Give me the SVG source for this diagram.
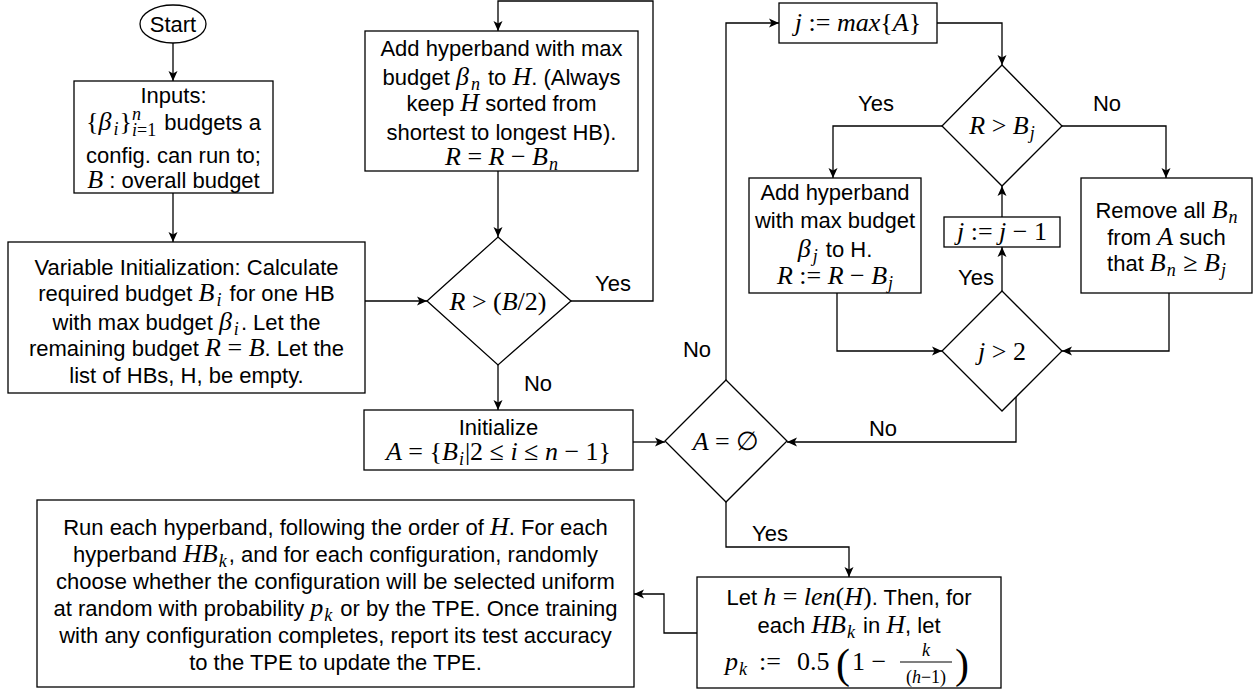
<svg xmlns="http://www.w3.org/2000/svg" width="1257" height="692" viewBox="0 0 1257 692">
<defs>
<style>
.box{fill:#fff;stroke:#000;stroke-width:1.3}
.ln{fill:none;stroke:#000;stroke-width:1.3;marker-end:url(#ah)}
text{font-family:"Liberation Sans",Arial,sans-serif;font-size:22px;fill:#000;text-anchor:middle}
.m{font-family:"Liberation Serif","Times New Roman",serif;font-size:26px;font-style:italic}
.u{font-family:"Liberation Serif","Times New Roman",serif;font-size:26px;font-style:normal}
.ms{font-family:"Liberation Serif","Times New Roman",serif;font-size:18px;font-style:italic}
.us{font-family:"Liberation Serif","Times New Roman",serif;font-size:18px;font-style:normal}
.sb{baseline-shift:-5px}
.st{text-anchor:start}
</style>
<marker id="ah" markerWidth="11" markerHeight="10" refX="10" refY="5" orient="auto" markerUnits="userSpaceOnUse">
<path d="M0,0.5 L10,5 L0,9.5 L2.5,5 z" fill="#000"/>
</marker>
</defs>

<g id="connectors">
<path class="ln" d="M173,43 V81"/>
<path class="ln" d="M173,193 V242"/>
<path class="ln" d="M365,301 H427"/>
<path class="ln" d="M571,301 H653 V1 H498 V31"/>
<path class="ln" d="M498,171 V237"/>
<path class="ln" d="M498,365 V410"/>
<path class="ln" d="M633,442 H665"/>
<path class="ln" d="M726,380 V23 H779"/>
<path class="ln" d="M937,23 H1002 V65"/>
<path class="ln" d="M942,126 H833 V178"/>
<path class="ln" d="M1062,126 H1166 V178"/>
<path class="ln" d="M837,293 V351 H942"/>
<path class="ln" d="M1169,293 V351 H1062"/>
<path class="ln" d="M1002,291 V247"/>
<path class="ln" d="M1002,217 V186"/>
<path class="ln" d="M1016,397 V442 H787"/>
<path class="ln" d="M726,502 V547 H849 V577"/>
<path class="ln" d="M697,633 H664 V594 H634"/>
<text x="613" y="291">Yes</text>
<text x="538" y="391">No</text>
<text x="697" y="357">No</text>
<text x="876" y="111">Yes</text>
<text x="1107" y="111">No</text>
<text x="976" y="285">Yes</text>
<text x="883" y="436">No</text>
<text x="770" y="541">Yes</text>
</g>

<g id="start">
<ellipse cx="173" cy="24" rx="33" ry="19" class="box"/>
<text x="173" y="32">Start</text>
</g>

<g id="inputs">
<rect x="74" y="81" width="199" height="112" class="box"/>
<text x="173.5" y="103">Inputs:</text>
<text x="173.5" y="130"><tspan class="u">{</tspan><tspan class="m">β</tspan><tspan class="ms sb" dx="2">i</tspan><tspan class="u" dx="1">}</tspan><tspan class="ms" style="baseline-shift:10px">n</tspan><tspan class="ms" dx="-9" style="baseline-shift:-6px">i</tspan><tspan class="us" style="baseline-shift:-6px">=1</tspan><tspan dx="2"> budgets a</tspan></text>
<text x="173.5" y="163">config. can run to;</text>
<text x="173.5" y="188"><tspan class="m">B</tspan> : overall budget</text>
</g>

<g id="varinit">
<rect x="8" y="242" width="357" height="151" class="box"/>
<text x="186.5" y="275">Variable Initialization: Calculate</text>
<text x="186.5" y="301">required budget <tspan class="m">B</tspan><tspan class="ms sb" dx="2">i</tspan><tspan dx="2"> for one HB</tspan></text>
<text x="186.5" y="330">with max budget <tspan class="m">β</tspan><tspan class="ms sb" dx="2">i</tspan><tspan dx="2">. Let the</tspan></text>
<text x="186.5" y="356">remaining budget <tspan class="m">R</tspan><tspan class="u"> = </tspan><tspan class="m">B</tspan>. Let the</text>
<text x="186.5" y="383">list of HBs, H, be empty.</text>
</g>

<g id="addhb">
<rect x="365" y="31" width="273" height="140" class="box"/>
<text x="501.5" y="56">Add hyperband with max</text>
<text x="501.5" y="85">budget <tspan class="m">β</tspan><tspan class="ms sb" dx="2">n</tspan><tspan dx="2"> to </tspan><tspan class="m">H</tspan>. (Always</text>
<text x="501.5" y="111">keep <tspan class="m">H</tspan> sorted from</text>
<text x="501.5" y="140">shortest to longest HB).</text>
<text x="501.5" y="165"><tspan class="m">R</tspan><tspan class="u"> = </tspan><tspan class="m">R</tspan><tspan class="u"> − </tspan><tspan class="m">B</tspan><tspan class="ms sb" dx="1">n</tspan></text>
</g>

<g id="dec1">
<polygon points="498,237 571,301 498,365 427,301" class="box"/>
<text x="498" y="310"><tspan class="m">R</tspan><tspan class="u"> &gt; (</tspan><tspan class="m">B</tspan><tspan class="u">/2)</tspan></text>
</g>

<g id="initA">
<rect x="364" y="410" width="269" height="60" class="box"/>
<text x="498.5" y="435">Initialize</text>
<text x="498.5" y="460"><tspan class="m">A</tspan><tspan class="u"> = {</tspan><tspan class="m">B</tspan><tspan class="ms sb" dx="1">i</tspan><tspan class="u" dx="1">|2 ≤ </tspan><tspan class="m">i</tspan><tspan class="u"> ≤ </tspan><tspan class="m">n</tspan><tspan class="u"> − 1}</tspan></text>
</g>

<g id="decEmpty">
<polygon points="726,380 787,441 726,502 665,441" class="box"/>
<text x="726" y="450"><tspan class="m">A</tspan><tspan class="u"> = ∅</tspan></text>
</g>

<g id="jmax">
<rect x="779" y="3" width="158" height="40" class="box"/>
<text x="858" y="31"><tspan class="m">j</tspan><tspan class="u"> := </tspan><tspan class="m">max</tspan><tspan class="u">{</tspan><tspan class="m">A</tspan><tspan class="u">}</tspan></text>
</g>

<g id="decRB">
<polygon points="1002,65 1062,126 1002,186 942,126" class="box"/>
<text x="1002" y="134"><tspan class="m">R</tspan><tspan class="u"> &gt; </tspan><tspan class="m">B</tspan><tspan class="ms sb" dx="1">j</tspan></text>
</g>

<g id="addhb2">
<rect x="749" y="178" width="172" height="115" class="box"/>
<text x="835" y="200">Add hyperband</text>
<text x="835" y="228">with max budget</text>
<text x="835" y="257"><tspan class="m">β</tspan><tspan class="ms sb" dx="2">j</tspan><tspan dx="2"> to H.</tspan></text>
<text x="835" y="284"><tspan class="m">R</tspan><tspan class="u"> := </tspan><tspan class="m">R</tspan><tspan class="u"> − </tspan><tspan class="m">B</tspan><tspan class="ms sb" dx="1">j</tspan></text>
</g>

<g id="remove">
<rect x="1081" y="178" width="171" height="115" class="box"/>
<text x="1166.5" y="218">Remove all <tspan class="m">B</tspan><tspan class="ms sb" dx="1">n</tspan></text>
<text x="1166.5" y="245">from <tspan class="m">A</tspan> such</text>
<text x="1166.5" y="271">that <tspan class="m">B</tspan><tspan class="ms sb" dx="1">n</tspan><tspan class="u" dx="1"> ≥ </tspan><tspan class="m">B</tspan><tspan class="ms sb" dx="1">j</tspan></text>
</g>

<g id="jdec">
<rect x="944" y="217" width="116" height="30" class="box"/>
<text x="1002" y="240"><tspan class="m">j</tspan><tspan class="u"> := </tspan><tspan class="m">j</tspan><tspan class="u"> − 1</tspan></text>
</g>

<g id="decJ2">
<polygon points="1002,291 1062,351 1002,411 942,351" class="box"/>
<text x="1002" y="360"><tspan class="m">j</tspan><tspan class="u"> &gt; 2</tspan></text>
</g>

<g id="leth">
<rect x="697" y="577" width="304" height="111" class="box"/>
<text x="849" y="605">Let <tspan class="m">h</tspan><tspan class="u"> = </tspan><tspan class="m">len</tspan><tspan class="u">(</tspan><tspan class="m">H</tspan><tspan class="u">)</tspan>. Then, for</text>
<text x="849" y="633">each <tspan class="m">HB</tspan><tspan class="ms sb" dx="1">k</tspan><tspan dx="2"> in </tspan><tspan class="m">H</tspan>, let</text>
<text class="st" x="725" y="670"><tspan class="m">p</tspan><tspan class="ms sb" dx="1">k</tspan><tspan class="u" x="759">:=</tspan><tspan class="u" x="797">0.5</tspan></text>
<text class="u st" x="836" y="678" style="font-size:42px">(</text>
<text class="u st" x="852" y="670">1 −</text>
<line x1="900" y1="662" x2="952" y2="662" stroke="#000" stroke-width="1.2"/>
<text class="ms" x="926" y="656">k</text>
<text x="926" y="683"><tspan class="us">(</tspan><tspan class="ms">h</tspan><tspan class="us">−1)</tspan></text>
<text class="u st" x="955" y="678" style="font-size:42px">)</text>
</g>

<g id="run">
<rect x="37" y="500" width="597" height="187" class="box"/>
<text x="335.5" y="535">Run each hyperband, following the order of <tspan class="m">H</tspan>. For each</text>
<text x="335.5" y="562">hyperband <tspan class="m">HB</tspan><tspan class="ms sb" dx="1">k</tspan><tspan dx="2">, and for each configuration, randomly</tspan></text>
<text x="335.5" y="589">choose whether the configuration will be selected uniform</text>
<text x="335.5" y="616">at random with probability <tspan class="m">p</tspan><tspan class="ms sb" dx="1">k</tspan><tspan dx="2"> or by the TPE. Once training</tspan></text>
<text x="335.5" y="643">with any configuration completes, report its test accuracy</text>
<text x="335.5" y="670">to the TPE to update the TPE.</text>
</g>
</svg>
